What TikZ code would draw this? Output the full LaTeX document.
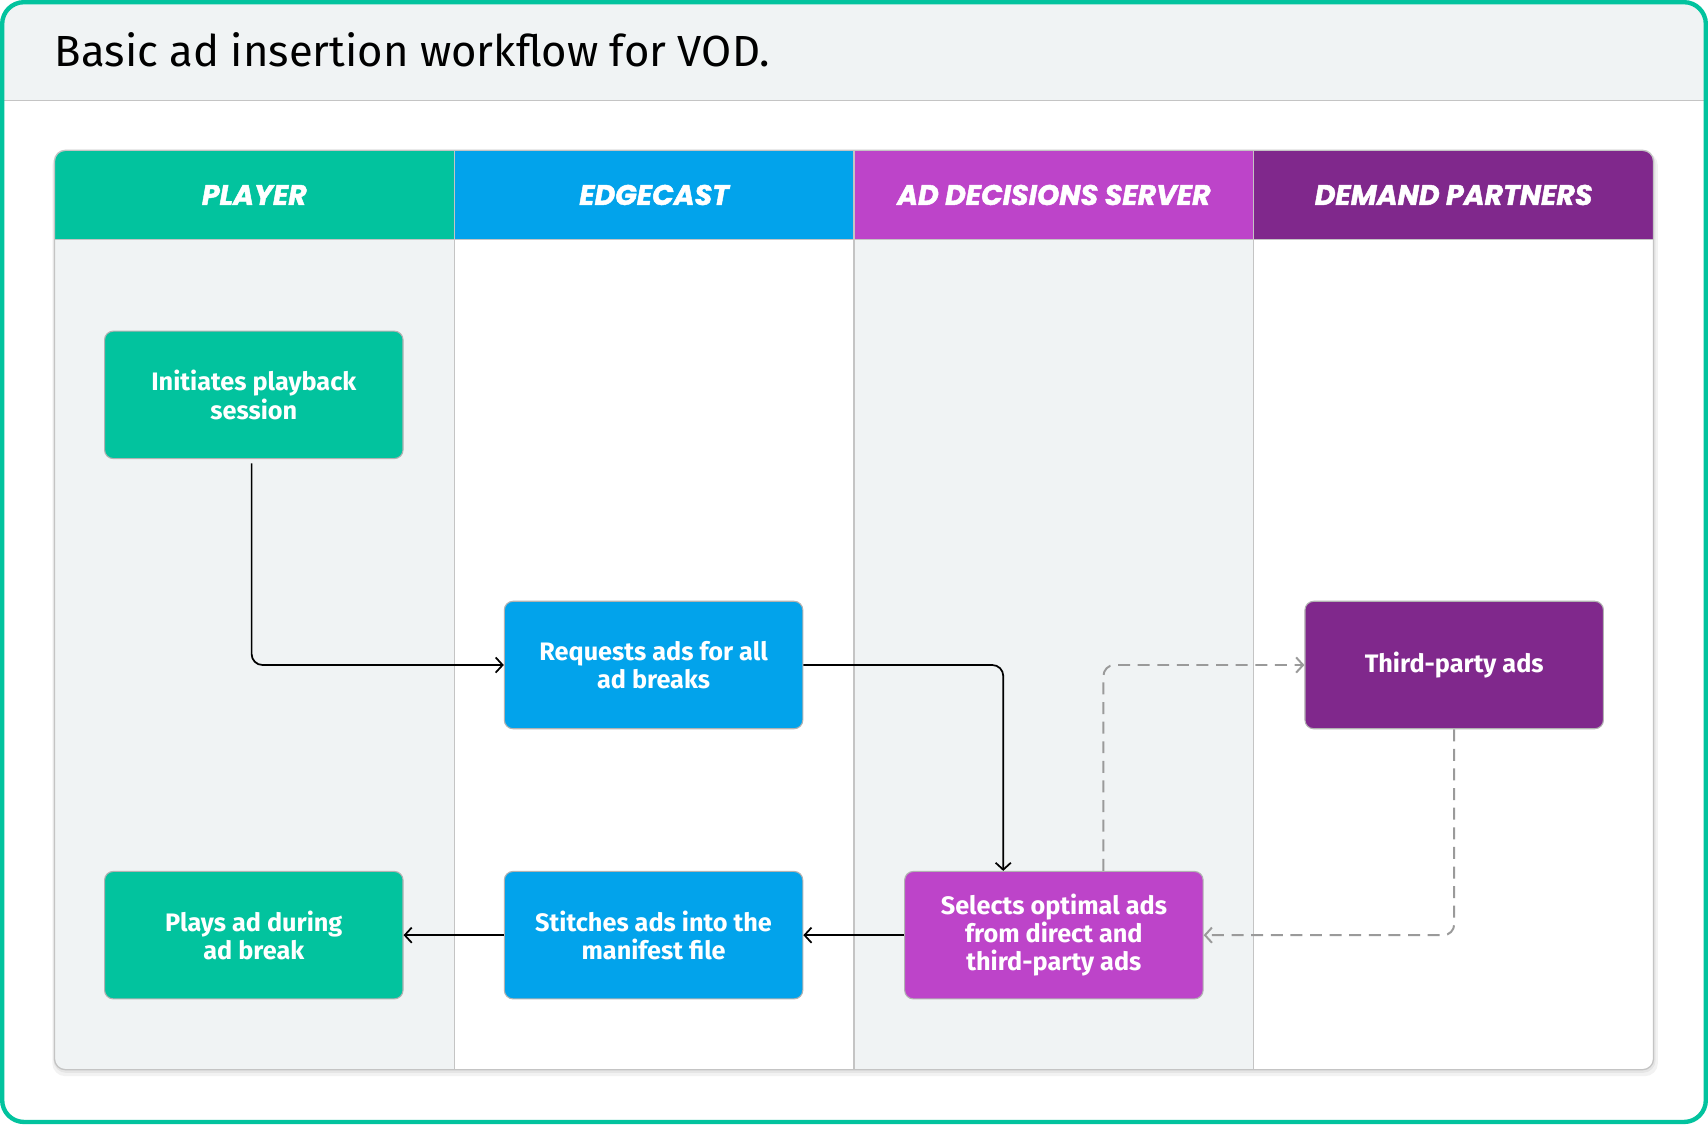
\documentclass[tikz,border=0pt]{standalone}
\usepackage{fontspec}
\setmainfont{Fira Sans}
\newfontfamily\hdrfont{Poppins}[BoldItalicFeatures={FakeBold=1.6}]
\usetikzlibrary{arrows.meta,calc}
\definecolor{cgreen}{HTML}{02C39E}
\definecolor{cblue}{HTML}{02A3EB}
\definecolor{cmag}{HTML}{BD44C9}
\definecolor{cpurp}{HTML}{80288C}
\definecolor{lgray}{HTML}{F0F3F4}
\definecolor{lineg}{HTML}{C4C4C4}
\definecolor{dashg}{HTML}{9A9A9A}
\tikzset{
  box/.style={rounded corners=4pt, draw=gray!60, line width=0.5pt, minimum width=137pt, minimum height=58.5pt,
    text=white, align=center, inner sep=2pt, font=\fontsize{11.6}{13}\selectfont\bfseries},
  hdr/.style={text=white, font=\hdrfont\fontsize{13}{15}\selectfont\bfseries\itshape},
  conn/.style={line width=0.8pt, black, rounded corners=5pt, -{Straight Barb[length=3.2pt,width=7pt,line width=0.8pt]}},
  dconn/.style={line width=0.9pt, dashg, dash pattern=on 5.5pt off 3.5pt, rounded corners=5pt, -{Straight Barb[length=3.2pt,width=7pt,line width=0.9pt]}}
}
\begin{document}
\begin{tikzpicture}[x=0.5pt,y=-0.5pt]
\useasboundingbox (0,0) rectangle (1568,1032);
\fill[white] (0,0) rectangle (1568,1032);
% header band
\begin{scope}
  \clip[rounded corners=10pt] (2,2) rectangle (1566,1030);
  \fill[lgray] (0,0) rectangle (1568,92);
\end{scope}
\draw[lineg, line width=0.6pt] (3,92) -- (1565,92);
\draw[cgreen, line width=2pt, rounded corners=10pt] (2,2) rectangle (1566,1030);
\node[anchor=base west, font=\fontsize{20}{24}\selectfont, inner sep=0pt] (title) at (50,61) {Basic ad insertion workflow for VOD.};
% table shadow
\fill[black, opacity=0.05, rounded corners=6pt] (48,140) rectangle (1522,988);
\fill[black, opacity=0.05, rounded corners=6pt] (49,139) rectangle (1520,985);
% table
\begin{scope}
  \clip[rounded corners=5pt] (50,138) rectangle (1518,982);
  \fill[lgray] (50,138) rectangle (417,982);
  \fill[white] (417,138) rectangle (784,982);
  \fill[lgray] (784,138) rectangle (1151,982);
  \fill[white] (1151,138) rectangle (1518,982);
  \fill[cgreen] (50,138) rectangle (417,220);
  \fill[cblue] (417,138) rectangle (784,220);
  \fill[cmag] (784,138) rectangle (1151,220);
  \fill[cpurp] (1151,138) rectangle (1518,220);
\end{scope}
\draw[lineg, line width=0.6pt] (50,220) -- (1518,220);
\foreach \xx in {417,784,1151} \draw[lineg, line width=0.6pt] (\xx,138) -- (\xx,982);
\draw[lineg, line width=0.6pt, rounded corners=5pt] (50,138) rectangle (1518,982);
\node[hdr] (h1) at (233.5,179) {PLAYER};
\node[hdr] (h2) at (600.5,179) {EDGECAST};
\node[hdr] (h3) at (967.5,179) {AD DECISIONS SERVER};
\node[hdr] (h4) at (1334.5,179) {DEMAND PARTNERS};
% nodes
\node[box, fill=cgreen] (n1) at (233,362.5) {Initiates playback\\session};
\node[box, fill=cblue] (n2) at (600,610.5) {Requests ads for all\\ad breaks};
\node[box, fill=cpurp] (n3) at (1335,610.5) {Third-party ads};
\node[box, fill=cgreen] (n4) at (233,858.5) {Plays ad during\\ad break};
\node[box, fill=cblue] (n5) at (600,858.5) {Stitches ads into the\\manifest file};
\node[box, fill=cmag] (n6) at (967.5,858.5) {Selects optimal ads\\from direct and\\third-party ads};
% connectors
\draw[conn, shorten <=2pt] ([xshift=-1pt]n1.south) |- (n2.west);
\draw[conn] (n2.east) -| ([xshift=-23.25pt]n6.north);
\draw[conn] (n6.west) -- (n5.east);
\draw[conn] (n5.west) -- (n4.east);
\draw[dconn] ([xshift=22.75pt]n6.north) |- (n3.west);
\draw[dconn] (n3.south) |- (n6.east);
\end{tikzpicture}
\end{document}
